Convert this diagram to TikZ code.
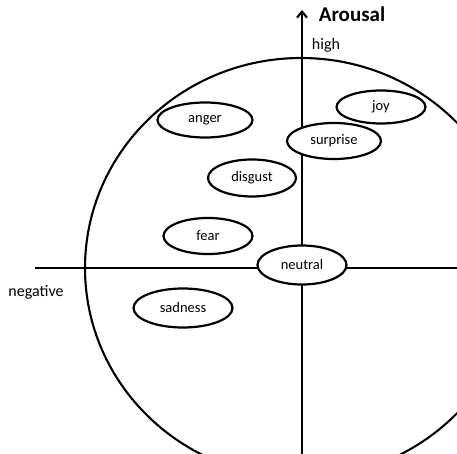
\documentclass[tikz,border=0pt]{standalone}
\usepackage{fontspec}
\setmainfont{Carlito}
\usetikzlibrary{shapes.geometric}
\usetikzlibrary{arrows.meta}

\tikzset{emotion/.style={ellipse,draw,fill=white,line width=2.2pt,inner sep=0pt,minimum width=89pt,minimum height=36pt,font=\fontsize{14.5}{16}\selectfont}}
\tikzset{axislabel/.style={font=\fontsize{16}{18}\selectfont}}

\begin{document}
\begin{tikzpicture}[x=1pt,y=-1pt]
\useasboundingbox (0,0) rectangle (457,454);
\clip (0,0) rectangle (457,454);

% big circle
\draw[line width=2.1pt] (301,268) ellipse [x radius=216, y radius=210];

% axes
\coordinate (xl) at (35,268);
\coordinate (xr) at (460,268);
\coordinate (yb) at (302,460);
\coordinate (yt) at (302,10);
\draw[line width=2.1pt] (xl) -- (xr);
\draw[line width=2.1pt,-{Straight Barb[length=6pt,width=10pt]}] (yb) -- (yt);

\node[font=\fontsize{21}{24}\selectfont\bfseries] (arousal) at (352,14) {Arousal};
\node[axislabel] (high) at (326,45) {high};
\node[axislabel] (negative) at (36,292) {negative};

% emotions
\node[emotion,minimum width=95pt,minimum height=35pt] (anger) at (205,120) {anger};
\node[emotion,minimum width=89pt,minimum height=33pt] (joy) at (381,107) {joy};
\node[emotion,minimum width=94pt] (surprise) at (334,141) {surprise};
\node[emotion,minimum width=88pt,minimum height=37pt] (disgust) at (252,178) {disgust};
\node[emotion] (fear) at (208,236) {fear};
\node[emotion,minimum height=39pt] (neutral) at (302,265) {neutral};
\node[emotion,minimum width=99pt,minimum height=39pt] (sadness) at (183,308) {sadness};

\end{tikzpicture}
\end{document}
